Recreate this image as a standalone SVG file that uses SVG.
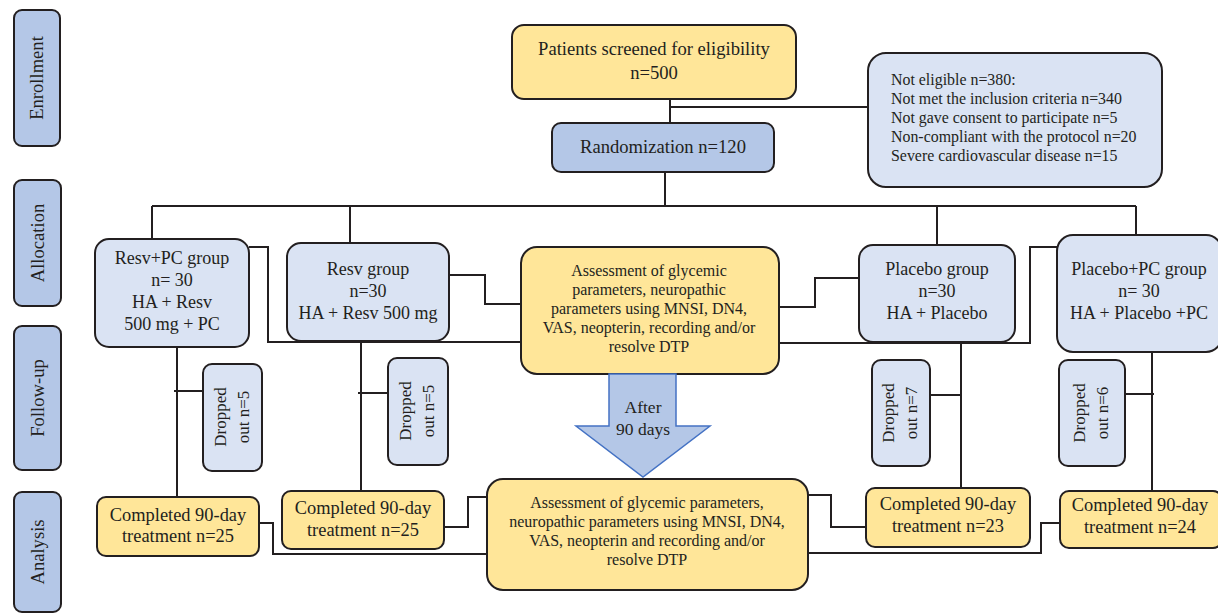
<svg xmlns="http://www.w3.org/2000/svg" width="1218" height="614" viewBox="0 0 1218 614">
<style>
.b{stroke:#231F20;stroke-width:2}
.y{fill:#FFE699}
.l{fill:#DAE3F3}
.m{fill:#B4C7E7}
text{font-family:"Liberation Serif","Times New Roman",serif;fill:#231F20}
.t17{font-size:18px;text-anchor:middle}
.t18{font-size:18.6px;text-anchor:middle}
.side{font-size:18.6px;text-anchor:middle}
.t15{font-size:16px;text-anchor:middle}
.t16{font-size:18.4px;text-anchor:middle}
.dr{font-size:17px;text-anchor:middle}
.ar{font-size:17.5px;text-anchor:middle}
.ne{font-size:15.9px}
.c{fill:none;stroke:#231F20;stroke-width:2}
</style>
<rect width="1218" height="614" fill="#FFFFFF"/>
<g id="connectors">
<path class="c" d="M670 99V123M670 107H868"/>
<path class="c" d="M665 172V206M152 206H1136M152 206V239M350 206V243M937 206V245M1136 206V235"/>
<path class="c" d="M249 247H268V342H521"/>
<path class="c" d="M449 275H485V304H521"/>
<path class="c" d="M779 307H815V278H859"/>
<path class="c" d="M779 343H1030V247H1057"/>
<path class="c" d="M177 347V497M174 391H203"/>
<path class="c" d="M361 341V491M358 393H388"/>
<path class="c" d="M961 342V488M930 395H961"/>
<path class="c" d="M1152 352V491M1125 394H1154"/>
<path class="c" d="M259 523H273V554H487"/>
<path class="c" d="M444 527H468V497H487"/>
<path class="c" d="M808 495H831V527H866"/>
<path class="c" d="M808 553H1041V523H1060"/>
</g>
<g id="enrollment"><rect class="b m" x="14" y="10" width="46" height="136" rx="8"/><text class="side" transform="translate(43 78) rotate(-90)">Enrollment</text></g>
<g id="allocation"><rect class="b m" x="14" y="180" width="47" height="126" rx="8"/><text class="side" transform="translate(44 243) rotate(-90)">Allocation</text></g>
<g id="followup"><rect class="b m" x="14" y="326" width="47" height="144" rx="8"/><text class="side" transform="translate(44 398) rotate(-90)">Follow-up</text></g>
<g id="analysis"><rect class="b m" x="14" y="492" width="47" height="120" rx="8"/><text class="side" transform="translate(44 552) rotate(-90)">Analysis</text></g>
<g id="screened"><rect class="b y" x="512" y="25" width="284" height="74" rx="12"/><text class="t18" x="654" y="55">Patients screened for eligibility</text><text class="t18" x="654" y="79">n=500</text></g>
<g id="randomization"><rect class="b m" x="552" y="123" width="222" height="49" rx="9"/><text class="t18" x="663" y="153">Randomization n=120</text></g>
<g id="noteligible"><rect class="b l" x="868" y="53" width="294" height="134" rx="18"/>
<text class="ne" x="891" y="85">Not eligible n=380:</text>
<text class="ne" x="891" y="104">Not met the inclusion criteria n=340</text>
<text class="ne" x="891" y="123">Not gave consent to participate n=5</text>
<text class="ne" x="891" y="142">Non-compliant with the protocol n=20</text>
<text class="ne" x="891" y="161">Severe cardiovascular disease n=15</text></g>
<g id="resvpc"><rect class="b l" x="95" y="239" width="154" height="108" rx="14"/>
<text class="t17" x="172" y="264">Resv+PC group</text><text class="t17" x="172" y="286">n= 30</text><text class="t17" x="172" y="308">HA + Resv</text><text class="t17" x="172" y="330">500 mg + PC</text></g>
<g id="resv"><rect class="b l" x="287" y="243" width="162" height="98" rx="14"/>
<text class="t17" x="368" y="275">Resv group</text><text class="t17" x="368" y="297">n=30</text><text class="t17" x="368" y="319">HA + Resv 500 mg</text></g>
<g id="assess1"><rect class="b y" x="521" y="247" width="258" height="127" rx="16"/>
<text class="t15" x="649" y="276">Assessment of glycemic</text><text class="t15" x="649" y="295">parameters, neuropathic</text><text class="t15" x="649" y="314">parameters using MNSI, DN4,</text><text class="t15" x="649" y="333">VAS, neopterin, recording and/or</text><text class="t15" x="649" y="352">resolve DTP</text></g>
<g id="placebo"><rect class="b l" x="859" y="245" width="156" height="97" rx="14"/>
<text class="t17" x="937" y="275">Placebo group</text><text class="t17" x="937" y="297">n=30</text><text class="t17" x="937" y="319">HA + Placebo</text></g>
<g id="placebopc"><rect class="b l" x="1057" y="235" width="165" height="117" rx="16"/>
<text class="t17" x="1139" y="275">Placebo+PC group</text><text class="t17" x="1139" y="297">n= 30</text><text class="t17" x="1139" y="319">HA + Placebo +PC</text></g>
<g id="drop1"><rect class="b l" x="203" y="364" width="59" height="107" rx="9"/>
<text class="dr" transform="translate(226 417) rotate(-90)">Dropped</text><text class="dr" transform="translate(249 417) rotate(-90)">out n=5</text></g>
<g id="drop2"><rect class="b l" x="388" y="358" width="60" height="107" rx="9"/>
<text class="dr" transform="translate(411 411) rotate(-90)">Dropped</text><text class="dr" transform="translate(434 411) rotate(-90)">out n=5</text></g>
<g id="drop3"><rect class="b l" x="872" y="360" width="58" height="106" rx="9"/>
<text class="dr" transform="translate(894 413) rotate(-90)">Dropped</text><text class="dr" transform="translate(917 413) rotate(-90)">out n=7</text></g>
<g id="drop4"><rect class="b l" x="1059" y="360" width="66" height="106" rx="9"/>
<text class="dr" transform="translate(1085 413) rotate(-90)">Dropped</text><text class="dr" transform="translate(1108 413) rotate(-90)">out n=6</text></g>
<g id="arrow"><path d="M609 374V426H576L643 477L710 426H676V374Z" fill="#B4C7E7" stroke="#4472C4" stroke-width="1.5"/>
<text class="ar" x="643" y="413">After</text><text class="ar" x="643" y="435">90 days</text></g>
<g id="comp1"><rect class="b y" x="97" y="497" width="162" height="59" rx="9"/>
<text class="t16" x="178" y="521">Completed 90-day</text><text class="t16" x="178" y="542">treatment n=25</text></g>
<g id="comp2"><rect class="b y" x="282" y="491" width="162" height="58" rx="9"/>
<text class="t16" x="363" y="514">Completed 90-day</text><text class="t16" x="363" y="536">treatment n=25</text></g>
<g id="assess2"><rect class="b y" x="487" y="479" width="321" height="111" rx="16"/>
<text class="t15" x="647" y="508">Assessment of glycemic parameters,</text><text class="t15" x="647" y="527">neuropathic parameters using MNSI, DN4,</text><text class="t15" x="647" y="546">VAS, neopterin and recording and/or</text><text class="t15" x="647" y="565">resolve DTP</text></g>
<g id="comp3"><rect class="b y" x="866" y="488" width="164" height="59" rx="9"/>
<text class="t16" x="948" y="510">Completed 90-day</text><text class="t16" x="948" y="532">treatment n=23</text></g>
<g id="comp4"><rect class="b y" x="1060" y="491" width="162" height="57" rx="9"/>
<text class="t16" x="1140" y="511">Completed 90-day</text><text class="t16" x="1140" y="533">treatment n=24</text></g>
</svg>
